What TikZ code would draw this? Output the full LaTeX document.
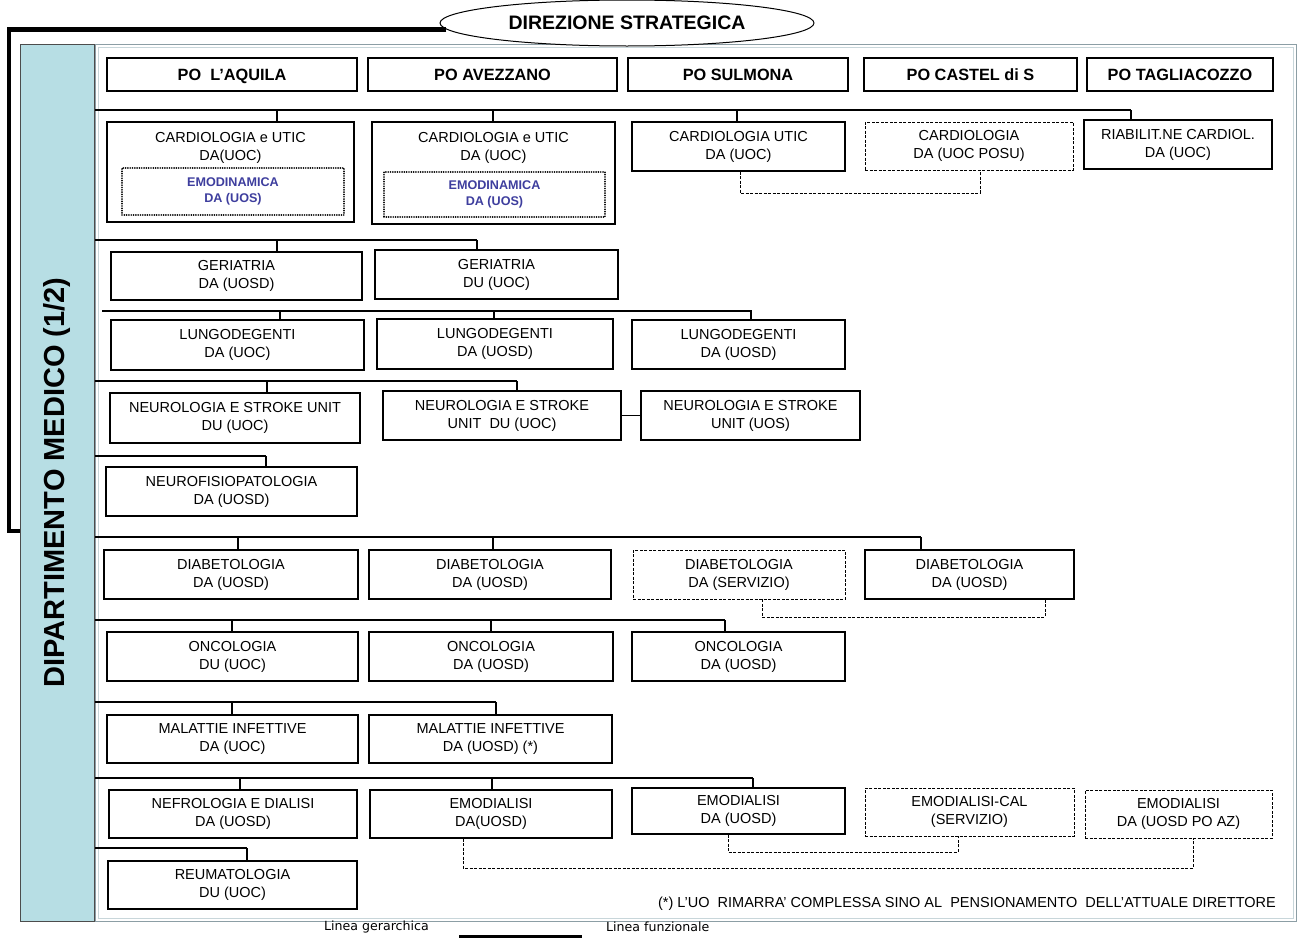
\documentclass[tikz,border=0pt]{standalone}
\usepackage{fontspec}
\setmainfont{Liberation Sans}
\newfontfamily\legendfam{DejaVu Sans}
\usepackage{tikz}
\usetikzlibrary{shapes.geometric,positioning}
\definecolor{panelblue}{RGB}{183,222,228}
\definecolor{emoblue}{RGB}{62,62,158}
\definecolor{frameout}{RGB}{140,158,165}
\definecolor{framein}{RGB}{200,214,218}
\newcommand{\unitfont}{\fontsize{14.5}{18}\selectfont}
\newcommand{\pofont}{\bfseries\fontsize{16.3}{19}\selectfont}
\newcommand{\emofont}{\bfseries\fontsize{12.6}{16}\selectfont}
\newcommand{\deptfont}{\bfseries\fontsize{29}{32}\selectfont}
\newcommand{\dirfont}{\bfseries\fontsize{19.5}{22}\selectfont}
\newcommand{\legendfont}{\legendfam\fontsize{12.6}{14}\selectfont}
\tikzset{
  unitbox/.style={draw,line width=1.3pt,inner sep=0pt,align=center,font=\unitfont,fill=white},
  servbox/.style={unitbox,line width=0.9pt,dash pattern=on 3pt off 1.5pt},
  pobox/.style={unitbox,font=\pofont,text height=12pt,text depth=0pt},
  emobox/.style={draw,line width=1.8pt,dash pattern=on 0.01pt off 2.3pt,line cap=round,inner sep=0pt,align=center,font=\emofont,text=emoblue},
  unittext/.style={inner sep=0pt,align=center,font=\unitfont},
  hbar/.style={line width=2.4pt},
  hbarthin/.style={line width=1.4pt},
  drop/.style={line width=2pt},
  funcline/.style={line width=0.9pt,dash pattern=on 3pt off 1.5pt},
  hierline/.style={line width=4.5pt}
}

\begin{document}
\begin{tikzpicture}[x=1pt,y=-1pt]
    \useasboundingbox (0,0) rectangle (1298,937);
    % frame and department panel
    \draw[frameout,line width=1pt] (95,44) rectangle (1296,921);
    \draw[framein,line width=1pt] (98,47) rectangle (1293,918);
    \node[draw=black!70,line width=1pt,fill=panelblue,rotate=90,minimum width=877,minimum height=74,inner sep=0pt,font=\deptfont] (dept) at (57,482.5) {DIPARTIMENTO MEDICO (1/2)};
    \node[ellipse,draw,line width=1pt,fill=white,minimum width=374,minimum height=46,inner sep=0pt,font=\dirfont] (dir) at (627,23) {DIREZIONE STRATEGICA};
    \coordinate (brk) at (9,531);
    \draw[hierline] (dir.182.2) -| (brk) -- ++(11,0);
    % presidi
    \node[pobox,minimum width=250,minimum height=33] (poaq) at (232,74.5) {PO\ \ L’AQUILA};
    \node[pobox,minimum width=249,minimum height=33] (poav) at (492.5,74.5) {PO AVEZZANO};
    \node[pobox,minimum width=220,minimum height=33] (posu) at (738,74.5) {PO SULMONA};
    \node[pobox,minimum width=213,minimum height=33] (poca) at (970.5,74.5) {PO CASTEL di S};
    \node[pobox,minimum width=186,minimum height=33] (pota) at (1180,74.5) {PO TAGLIACOZZO};
    % cardiologia
    \node[unitbox,minimum width=247,minimum height=100] (card1) at (230.5,172) {};
    \node[unittext,below=11pt of card1.north] (card1t) {CARDIOLOGIA e UTIC\\DA(UOC)};
    \node[emobox,minimum width=222,minimum height=47] (emo1) at (233,191.5) {EMODINAMICA\\DA (UOS)};
    \node[unitbox,minimum width=243,minimum height=102] (card2) at (493.5,173) {};
    \node[unittext,below=11pt of card2.north] (card2t) {CARDIOLOGIA e UTIC\\DA (UOC)};
    \node[emobox,minimum width=221,minimum height=45] (emo2) at (494.5,194.5) {EMODINAMICA\\DA (UOS)};
    \node[unitbox,minimum width=213,minimum height=49] (card3) at (738.5,146.5) {CARDIOLOGIA UTIC\\DA (UOC)};
    \node[servbox,minimum width=208,minimum height=48] (card4) at (969,146) {CARDIOLOGIA\\DA (UOC POSU)};
    \node[unitbox,minimum width=188,minimum height=49] (riab) at (1178,144.5) {RIABILIT.NE CARDIOL.\\DA (UOC)};
    \draw[hbar] (95,110) -- (1131,110);
    \draw[drop] (277,110) -- (277,0 |- card1.north);
    \draw[drop] (493,110) -- (493,0 |- card2.north);
    \draw[drop] (737,110) -- (737,0 |- card3.north);
    \draw[drop] (1131,110) -- (1131,0 |- riab.north);
    \draw[funcline] (740,0 |- card3.south) -- (740,193) -| (980,0 |- card4.south);
    % geriatria
    \node[unitbox,minimum width=251,minimum height=48] (ger1) at (236.5,276) {GERIATRIA\\DA (UOSD)};
    \node[unitbox,minimum width=243,minimum height=49] (ger2) at (496.5,274.5) {GERIATRIA\\DU (UOC)};
    \draw[hbarthin] (95,240) -- (477,240);
    \draw[drop] (277,240) -- (277,0 |- ger1.north);
    \draw[drop] (477,240) -- (477,0 |- ger2.north);
    % lungodegenti
    \node[unitbox,minimum width=253,minimum height=50] (lung1) at (237.5,345) {LUNGODEGENTI\\DA (UOC)};
    \node[unitbox,minimum width=236,minimum height=50] (lung2) at (495,344) {LUNGODEGENTI\\DA (UOSD)};
    \node[unitbox,minimum width=213,minimum height=49] (lung3) at (738.5,344.5) {LUNGODEGENTI\\DA (UOSD)};
    \draw[hbar] (102,311) -- (752,311);
    \draw[drop] (280,311) -- (280,0 |- lung1.north);
    \draw[drop] (494,311) -- (494,0 |- lung2.north);
    \draw[drop] (751,311) -- (751,0 |- lung3.north);
    % neurologia
    \node[unitbox,minimum width=250,minimum height=50] (neu1) at (235,418) {NEUROLOGIA E STROKE UNIT\\DU (UOC)};
    \node[unitbox,minimum width=238,minimum height=49] (neu2) at (502,415.5) {NEUROLOGIA E STROKE\\UNIT\ \ DU (UOC)};
    \node[unitbox,minimum width=219,minimum height=49] (neu3) at (750.5,415.5) {NEUROLOGIA E STROKE\\UNIT (UOS)};
    \draw[hbarthin] (95,381) -- (517,381);
    \draw[drop] (267,381) -- (267,0 |- neu1.north);
    \draw[drop] (517,381) -- (517,0 |- neu2.north);
    \draw[line width=1.2pt] (neu2.east) -- (neu3.west);
    % neurofisiopatologia
    \node[unitbox,minimum width=251,minimum height=49] (nfis) at (231.5,491.5) {NEUROFISIOPATOLOGIA\\DA (UOSD)};
    \draw[hbar] (95,456) -- (266,456);
    \draw[drop] (266,456) -- (266,0 |- nfis.north);
    % diabetologia
    \node[unitbox,minimum width=254,minimum height=49] (dia1) at (231,574.5) {DIABETOLOGIA\\DA (UOSD)};
    \node[unitbox,minimum width=242,minimum height=49] (dia2) at (490,574.5) {DIABETOLOGIA\\DA (UOSD)};
    \node[servbox,minimum width=212,minimum height=49] (dia3) at (739,574.5) {DIABETOLOGIA\\DA (SERVIZIO)};
    \node[unitbox,minimum width=209,minimum height=49] (dia4) at (969.5,574.5) {DIABETOLOGIA\\DA (UOSD)};
    \draw[hbarthin] (95,537) -- (921,537);
    \draw[drop] (238,537) -- (238,0 |- dia1.north);
    \draw[drop] (493,537) -- (493,0 |- dia2.north);
    \draw[drop] (921,537) -- (921,0 |- dia4.north);
    \draw[funcline] (762,0 |- dia3.south) -- (762,617) -| (1045,0 |- dia4.south);
    % oncologia
    \node[unitbox,minimum width=251,minimum height=49] (onc1) at (232.5,656.5) {ONCOLOGIA\\DU (UOC)};
    \node[unitbox,minimum width=244,minimum height=49] (onc2) at (491,656.5) {ONCOLOGIA\\DA (UOSD)};
    \node[unitbox,minimum width=213,minimum height=49] (onc3) at (738.5,656.5) {ONCOLOGIA\\DA (UOSD)};
    \draw[hbar] (95,620) -- (725,620);
    \draw[drop] (232,620) -- (232,0 |- onc1.north);
    \draw[drop] (491,620) -- (491,0 |- onc2.north);
    \draw[drop] (725,620) -- (725,0 |- onc3.north);
    % malattie infettive
    \node[unitbox,minimum width=251,minimum height=48] (mal1) at (232.5,739) {MALATTIE INFETTIVE\\DA (UOC)};
    \node[unitbox,minimum width=243,minimum height=48] (mal2) at (490.5,739) {MALATTIE INFETTIVE\\DA (UOSD) (*)};
    \draw[hbar] (95,702) -- (496,702);
    \draw[drop] (232,702) -- (232,0 |- mal1.north);
    \draw[drop] (496,702) -- (496,0 |- mal2.north);
    % nefrologia e emodialisi
    \node[unitbox,minimum width=248,minimum height=48] (nef) at (233,814) {NEFROLOGIA E DIALISI\\DA (UOSD)};
    \node[unitbox,minimum width=242,minimum height=48] (emod1) at (491,814) {EMODIALISI\\DA(UOSD)};
    \node[unitbox,minimum width=213,minimum height=46] (emod2) at (738.5,811) {EMODIALISI\\DA (UOSD)};
    \node[servbox,minimum width=209,minimum height=48] (emocal) at (969.5,812) {EMODIALISI-CAL\\(SERVIZIO)};
    \node[servbox,minimum width=187,minimum height=48] (emoaz) at (1178.5,814) {EMODIALISI\\DA (UOSD PO AZ)};
    \draw[hbar] (95,778) -- (753,778);
    \draw[drop] (240,778) -- (240,0 |- nef.north);
    \draw[drop] (492,778) -- (492,0 |- emod1.north);
    \draw[drop] (753,778) -- (753,0 |- emod2.north);
    \draw[funcline] (728,0 |- emod2.south) -- (728,852) -| (958,0 |- emocal.south);
    \draw[funcline] (463,0 |- emod1.south) -- (463,868) -| (1193,0 |- emoaz.south);
    % reumatologia
    \node[unitbox,minimum width=249,minimum height=48] (reum) at (232.5,885) {REUMATOLOGIA\\DU (UOC)};
    \draw[hbar] (95,848) -- (247,848);
    \draw[drop] (247,848) -- (247,0 |- reum.north);
    % nota e legenda
    \node[anchor=east,inner sep=0pt,font=\unitfont] (nota) at (1276,904) {(*) L’UO\ \ RIMARRA’ COMPLESSA SINO AL\ \ PENSIONAMENTO\ \ DELL’ATTUALE DIRETTORE};
    \node[anchor=west,inner sep=0pt,font=\legendfont] (leggen) at (324,927) {Linea gerarchica};
    \node[anchor=west,inner sep=0pt,font=\legendfont] (legfun) at (606,927) {Linea funzionale};
    \draw[line width=3pt] (459,936) -- (582,936);
\end{tikzpicture}
\end{document}
